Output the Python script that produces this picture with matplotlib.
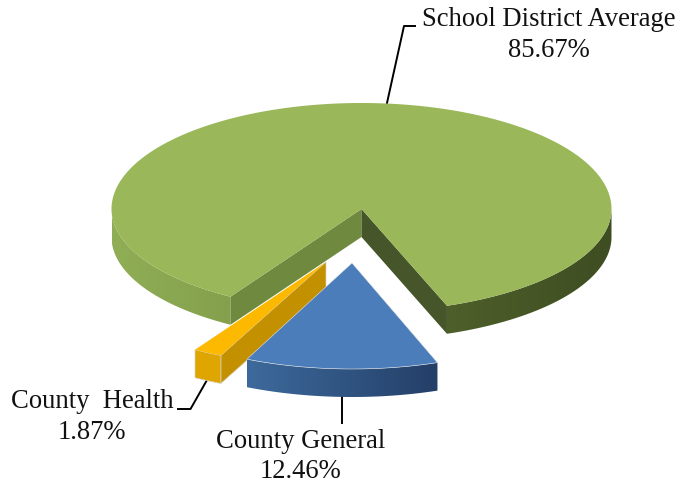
import numpy as np
import matplotlib
matplotlib.use('Agg')
import matplotlib.pyplot as plt
from matplotlib.colors import LinearSegmentedColormap
from matplotlib.patches import Polygon

labels = ['School District Average', 'County General', 'County  Health']
shares = [85.67, 12.46, 1.87]

top_colors = ['#9ab759', '#4a7dba', '#fcb900']
green_cut_colors = ('#6f8a3f', '#46562a')
yellow_side, yellow_end = '#c39000', '#dfa500'

pie_centers = [(361.5, 209), (352, 263), (326, 262)]
front_ry = [103, 106, 103]  # the front half of each slice is a bit flatter
rx, back_ry = 250, 106
depth = 28
start = -31.6  # degrees, measured from straight down, slices run clockwise


def arc(center, t0, t1, ry, n=120, drop=0):
    t = np.radians(np.linspace(t0, t1, n))
    yr = np.where(np.cos(t) > 0, ry, back_ry)
    return np.column_stack([center[0] + rx*np.sin(t), center[1] + drop + yr*np.cos(t)])


def draw_rim(ax, center, t0, t1, ry, c0, c1, z):
    # horizontal gradient clipped to the band under the arc
    pts = np.vstack([arc(center, t0, t1, ry), arc(center, t1, t0, ry, drop=depth)])
    poly = Polygon(pts, fc='none', ec='none', transform=ax.transData)
    ax.add_patch(poly)
    cmap = LinearSegmentedColormap.from_list('rim', [c0, c1])
    grad = np.linspace(0, 1, 256).reshape(1, -1)
    extent = [pts[:, 0].min(), pts[:, 0].max(), pts[:, 1].max(), pts[:, 1].min()]
    im = ax.imshow(grad, cmap=cmap, extent=extent, aspect='auto', zorder=z)
    im.set_clip_path(poly)


fig = plt.figure(figsize=(6.78, 4.83), dpi=100)
ax = fig.add_axes([0, 0, 1, 1])

# slice limits, walking clockwise means t goes down
sweeps = np.array(shares) / 100 * 360
t_begin = start - np.concatenate([[0], np.cumsum(sweeps)[:-1]])
t_end = t_begin - sweeps
down = np.array([0, depth])

# green slice: wraps over the back, only the two front arcs show a rim
c = pie_centers[0]
a_left, a_right = t_begin[0], t_end[0] + 360
draw_rim(ax, c, -90, a_left, front_ry[0], '#8fae55', '#84a04c', 2)
draw_rim(ax, c, a_right, 90, front_ry[0], '#4d5f2a', '#3f4d22', 2)
apex = np.array(c)
left_end = arc(c, a_left, a_left, front_ry[0], 1)[0]
right_end = arc(c, a_right, a_right, front_ry[0], 1)[0]
ax.add_patch(Polygon([apex, left_end, left_end+down, apex+down], fc=green_cut_colors[0], ec='none', zorder=3))
ax.add_patch(Polygon([apex, right_end, right_end+down, apex+down], fc=green_cut_colors[1], ec='none', zorder=3))
ax.add_patch(Polygon(np.vstack([[apex], arc(c, t_begin[0], t_end[0], front_ry[0], 400)]),
                     fc=top_colors[0], ec='none', zorder=4))

# yellow sliver
c = pie_centers[2]
apex = np.array(c)
p1 = arc(c, t_begin[2], t_begin[2], front_ry[2], 1)[0]
if arc(c, t_end[2], t_end[2], front_ry[2], 1)[0][0] > p1[0]:
    p1 = arc(c, t_end[2], t_end[2], front_ry[2], 1)[0]
ax.add_patch(Polygon([apex, p1, p1+down, apex+down], fc=yellow_side, ec='#d8d2c0', lw=0.5, zorder=5))
ax.add_patch(Polygon(np.vstack([arc(c, t_begin[2], t_end[2], front_ry[2], 10),
                                arc(c, t_end[2], t_begin[2], front_ry[2], 10, drop=depth)]),
                     fc=yellow_end, ec='#d8d2c0', lw=0.5, zorder=6))
ax.add_patch(Polygon(np.vstack([[apex], arc(c, t_begin[2], t_end[2], front_ry[2], 10)]),
                     fc=top_colors[2], ec='none', zorder=7))

# blue slice
c = pie_centers[1]
draw_rim(ax, c, t_end[1], t_begin[1], front_ry[1], '#3d6a9c', '#243f68', 8)
ax.add_patch(Polygon(np.vstack([[c], arc(c, t_begin[1], t_end[1], front_ry[1], 60)]),
                     fc=top_colors[1], ec='#e4e4e4', lw=0.4, zorder=9))

# leader lines
ax.plot([387, 404, 415], [103, 26, 26], color='black', lw=1.4, zorder=1)
ax.plot([342, 342], [396, 423], color='black', lw=1.4, zorder=1)
ax.plot([207, 190.5, 178], [380, 409, 409], color='black', lw=1.4, zorder=1)

plt.rcParams['font.family'] = ['Liberation Serif', 'DejaVu Serif']
label_x = [548.5, 301, 92]
name_base = [26, 448, 408]
value_base = [57, 478.5, 439]
for name, val, x, y0, y1 in zip(labels, shares, label_x, name_base, value_base):
    ax.text(x, y0, name, ha='center', va='baseline', fontsize=19.2, color='#111111')
    ax.text(x, y1, '%.2f%%' % val, ha='center', va='baseline', fontsize=19.2, color='#111111')

ax.set_xlim(0, 678)
ax.set_ylim(483, 0)
ax.axis('off')

fig.savefig('out.png', dpi=100)
